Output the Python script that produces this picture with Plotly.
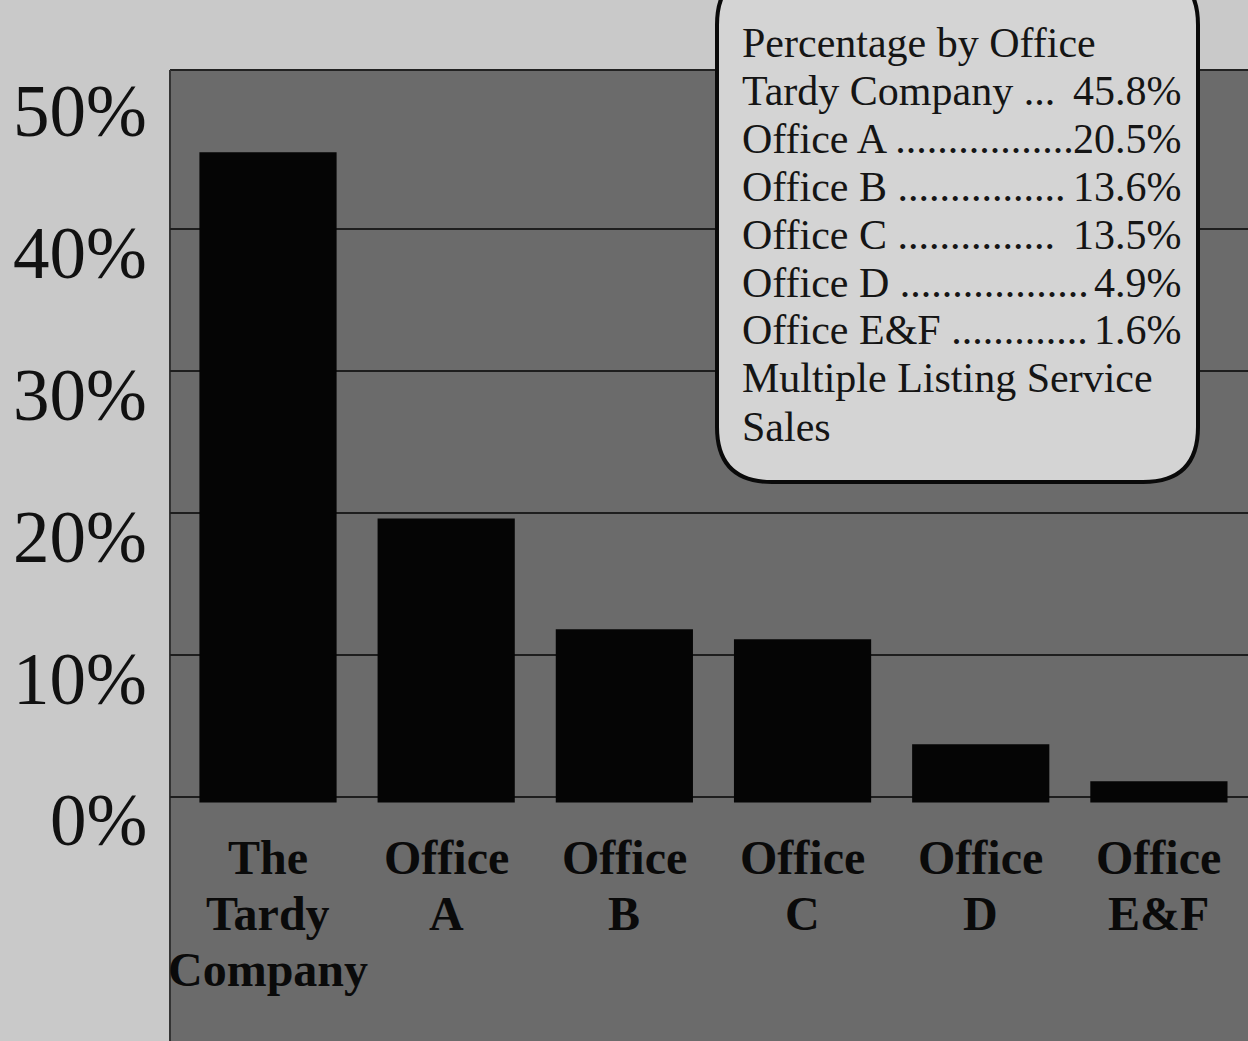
import plotly.graph_objects as go

# ---- data ----
categories = ["The Tardy Company", "Office A", "Office B", "Office C", "Office D", "Office E&F"]
label_lines = [["The", "Tardy", "Company"], ["Office", "A"], ["Office", "B"],
               ["Office", "C"], ["Office", "D"], ["Office", "E&F"]]
bar_values = [45.8, 20.0, 12.2, 11.5, 4.1, 1.5]   # heights as drawn
y_ticks = [0, 10, 20, 30, 40, 50]
y_tick_labels = ["0%", "10%", "20%", "30%", "40%", "50%"]
legend_title = "Percentage by Office"
legend_names = ["Tardy Company ...", "Office A .................", "Office B ................",
                "Office C ...............", "Office D ..................", "Office E&F ............."]
legend_values = ["45.8%", "20.5%", "13.6%", "13.5%", "4.9%", "1.6%"]
legend_footer = ["Multiple Listing Service", "Sales"]

W, H = 1248, 1041
ML, MT = 170, 70
PW, PH = W - ML, H - MT

def px(xp):
    return (xp - ML) / PW

def py(yp):
    return (H - yp) / PH

fig = go.Figure()
fig.add_trace(go.Bar(x=categories, y=bar_values, base=-0.4,
                     marker=dict(color="#050505", line=dict(width=0)),
                     width=0.77, hoverinfo="skip"))

ann = []
# y tick labels (offset slightly below gridlines as in the original)
for v, t in zip(y_ticks, y_tick_labels):
    ann.append(dict(x=px(149), xref="paper", y=v - 1.7, yref="y", text=t, showarrow=False,
                    xanchor="right", yanchor="middle",
                    font=dict(family="Liberation Serif", size=73, color="#111")))
# category labels
for cat, lines in zip(categories, label_lines):
    for i, ln in enumerate(lines):
        ann.append(dict(x=cat, xref="x", y=py(857 + 56 * i), yref="paper", text="<b>" + ln + "</b>",
                        showarrow=False, xanchor="center", yanchor="middle",
                        font=dict(family="Liberation Serif", size=48, color="#0a0a0a")))
# legend box text
lx, rx = 740, 1184
line_y = [43, 91, 139, 187, 235, 283, 330, 378, 427]
tfont = dict(family="Liberation Serif", size=42, color="#151515")
ann.append(dict(x=px(lx), xref="paper", y=py(line_y[0]), yref="paper", text=legend_title,
                showarrow=False, xanchor="left", yanchor="middle", font=tfont))
for i, (n, v) in enumerate(zip(legend_names, legend_values)):
    yy = py(line_y[i + 1])
    ann.append(dict(x=px(lx), xref="paper", y=yy, yref="paper", text=n, showarrow=False,
                    xanchor="left", yanchor="middle", font=tfont))
    ann.append(dict(x=px(rx), xref="paper", y=yy, yref="paper", text=v, showarrow=False,
                    xanchor="right", yanchor="middle", font=tfont))
for j, f in enumerate(legend_footer):
    ann.append(dict(x=px(lx), xref="paper", y=py(line_y[7 + j]), yref="paper", text=f,
                    showarrow=False, xanchor="left", yanchor="middle", font=tfont))

# rounded legend box
bx0, bx1, by0, by1, r = 717, 1198, -30, 482, 55
X0, X1 = px(bx0), px(bx1)
Yt, Yb = py(by0), py(by1)
rx_, ry_ = r / PW, r / PH
path = (f"M {X0+rx_},{Yt} L {X1-rx_},{Yt} Q {X1},{Yt} {X1},{Yt-ry_} "
        f"L {X1},{Yb+ry_} Q {X1},{Yb} {X1-rx_},{Yb} L {X0+rx_},{Yb} "
        f"Q {X0},{Yb} {X0},{Yb+ry_} L {X0},{Yt-ry_} Q {X0},{Yt} {X0+rx_},{Yt} Z")

shapes = [
    dict(type="path", path=path, xref="paper", yref="paper", fillcolor="#d4d4d4",
         line=dict(color="#0a0a0a", width=4), layer="above"),
    dict(type="line", xref="paper", yref="paper", x0=0, x1=1, y0=1, y1=1,
         line=dict(color="#222", width=2), layer="below"),
    dict(type="line", xref="paper", yref="paper", x0=0, x1=0, y0=0, y1=1,
         line=dict(color="#333", width=2), layer="below"),
]

fig.update_layout(
    width=W, height=H,
    margin=dict(l=ML, r=0, t=MT, b=0),
    paper_bgcolor="#c9c9c9", plot_bgcolor="#6b6b6b",
    showlegend=False,
    xaxis=dict(showticklabels=False, showgrid=False, zeroline=False, showline=False,
               range=[-0.55, 5.5], fixedrange=True),
    yaxis=dict(range=[-17.2, 51.2], tickvals=[0, 10, 20, 30, 40], showticklabels=False,
               showgrid=True, gridcolor="#1e1e1e", gridwidth=1.5, zeroline=False,
               showline=False, fixedrange=True),
    annotations=ann, shapes=shapes,
)

fig.write_html("out.html", config={"displayModeBar": False},
               post_script="document.body.style.margin='0';document.body.style.padding='0';")
